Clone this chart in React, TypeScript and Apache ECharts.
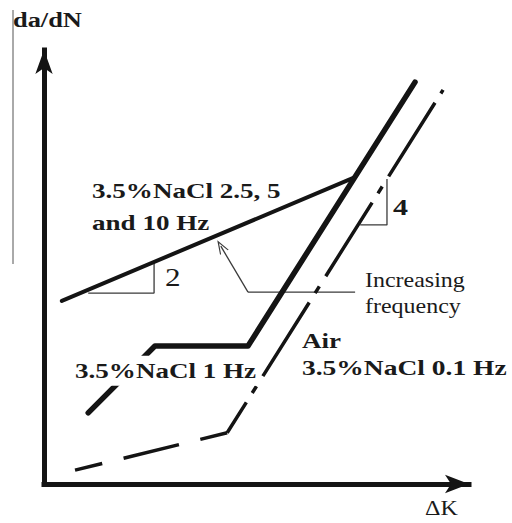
import React, { useEffect, useRef } from "react";
import * as echarts from "echarts";

// Schematic data (arbitrary units: ΔK 0–100, da/dN 0–100)
const nacl25X = [4.2, 73.2];
const nacl25Y = [42.2, 70.7];
const nacl1X = [10.4, 26.1, 48.0, 87.3];
const nacl1Y = [16.4, 31.8, 31.8, 92.6];
const airLowX = [7.3, 43.1];
const airLowY = [3.2, 11.8];
const airHighX = [43.1, 93.9];
const airHighY = [11.8, 90.8];
const slope2X = [10.4, 25.9, 25.9];
const slope2Y = [44.0, 44.0, 51.2];
const slope4X = [74.4, 80.7, 80.7];
const slope4Y = [59.7, 59.7, 70.3];
const freqX = [73.2, 48.0];
const freqY = [44.2, 44.2];
const freqArrowX = [48.0, 41.6];
const freqArrowY = [44.2, 54.8];

const W = 512;
const H = 523;
const INK = "#141414";
const THIN = "#3a3a3a";
const SERIF = '"Liberation Serif", "Times New Roman", serif';

const pts = (xs: number[], ys: number[]) => xs.map((x, i) => [x, ys[i]]);

const chevron = "path://M0,14 L6,0 L12,14 L10.6,14 L6,3.6 L1.4,14 Z";

function label(text: string, x: number, baseline: number, size: number, bold: boolean, scaleX: number, extra: any = {}) {
  return {
    type: "text",
    x,
    y: baseline - 0.33 * size,
    scaleX,
    z: 100,
    style: {
      text,
      font: `${bold ? "bold " : ""}${size}px ${SERIF}`,
      fill: "#1a1a1a",
      align: "left",
      verticalAlign: "middle",
      ...extra,
    },
  };
}

export default function App() {
  const ref = useRef<HTMLDivElement>(null);
  useEffect(() => {
    const chart = echarts.init(ref.current!, null, { renderer: "svg", width: W, height: H });
    const axisCommon = {
      type: "value",
      min: 0,
      max: 100,
      axisTick: { show: false },
      axisLabel: { show: false },
      splitLine: { show: false },
    };
    const option: any = {
      animation: false,
      backgroundColor: "#ffffff",
      grid: { left: 44, right: 43, top: 50, bottom: 39 },
      xAxis: {
        ...axisCommon,
        axisLine: {
          show: true,
          onZero: false,
          symbol: ["none", "arrow"],
          symbolSize: [14, 24],
          lineStyle: { color: INK, width: 5, cap: "square" },
        },
      },
      yAxis: {
        ...axisCommon,
        axisLine: {
          show: true,
          onZero: false,
          symbol: ["none", "arrow"],
          symbolSize: [13, 24],
          lineStyle: { color: INK, width: 5, cap: "square" },
        },
      },
      series: [
        {
          name: "3.5%NaCl 2.5, 5 and 10 Hz",
          type: "line",
          data: pts(nacl25X, nacl25Y),
          symbol: "none",
          silent: true,
          lineStyle: { color: INK, width: 4, cap: "round" },
          z: 3,
        },
        {
          name: "3.5%NaCl 1 Hz",
          type: "line",
          data: pts(nacl1X, nacl1Y),
          symbol: "none",
          silent: true,
          lineStyle: { color: INK, width: 5.5, cap: "round", join: "round" },
          z: 4,
        },
        {
          name: "Air / 3.5%NaCl 0.1 Hz (low)",
          type: "line",
          data: pts(airLowX, airLowY),
          symbol: "none",
          silent: true,
          lineStyle: { color: INK, width: 3.5, type: [57, 22], dashOffset: 29 },
          z: 3,
        },
        {
          name: "Air / 3.5%NaCl 0.1 Hz",
          type: "line",
          data: pts(airHighX, airHighY),
          symbol: "none",
          silent: true,
          lineStyle: { color: INK, width: 3.5, type: [87, 11, 8, 12], dashOffset: 51 },
          z: 3,
        },
        {
          name: "slope 2",
          type: "line",
          data: pts(slope2X, slope2Y),
          symbol: "none",
          silent: true,
          lineStyle: { color: THIN, width: 1.3 },
          z: 2,
        },
        {
          name: "slope 4",
          type: "line",
          data: pts(slope4X, slope4Y),
          symbol: "none",
          silent: true,
          lineStyle: { color: THIN, width: 1.3 },
          z: 2,
        },
        {
          name: "Increasing frequency",
          type: "line",
          data: pts(freqX, freqY),
          symbol: "none",
          silent: true,
          lineStyle: { color: THIN, width: 1.3 },
          z: 2,
          markLine: {
            silent: true,
            symbol: ["none", chevron],
            symbolSize: [10, 14],
            label: { show: false },
            emphasis: { disabled: true },
            lineStyle: { color: THIN, width: 1.3, type: "solid" },
            data: [
              [
                { coord: [freqArrowX[0], freqArrowY[0]] },
                { coord: [freqArrowX[1], freqArrowY[1]] },
              ],
            ],
          },
        },
      ],
      graphic: [
        {
          type: "line",
          shape: { x1: 13, y1: 10, x2: 13, y2: 264 },
          style: { stroke: "#555", lineWidth: 1 },
          z: 1,
        },
        label("da/dN", 13, 27, 22, true, 1.2),
        label("3.5%NaCl 2.5, 5", 92, 198, 22, true, 1.23),
        label("and 10 Hz", 92, 230, 22, true, 1.23),
        label("2", 165, 286, 26, false, 1.2),
        label("Increasing", 365, 287, 22, false, 1.09),
        label("frequency", 365, 313, 22, false, 1.09),
        label("4", 393, 215, 24, true, 1.25),
        label("Air", 302, 348, 22, true, 1.23),
        label("3.5%NaCl 1 Hz", 75, 378, 22, true, 1.23, { backgroundColor: "#ffffff", padding: [4, 0, 4, 0] }),
        label("3.5%NaCl 0.1 Hz", 302, 375, 22, true, 1.25),
        label("ΔK", 425, 515, 20, false, 1.2),
      ],
    };
    chart.setOption(option);
    return () => chart.dispose();
  }, []);
  return (
    <div
      ref={ref}
      style={{ position: "fixed", left: 0, top: 0, width: W, height: H, background: "#fff" }}
    />
  );
}
